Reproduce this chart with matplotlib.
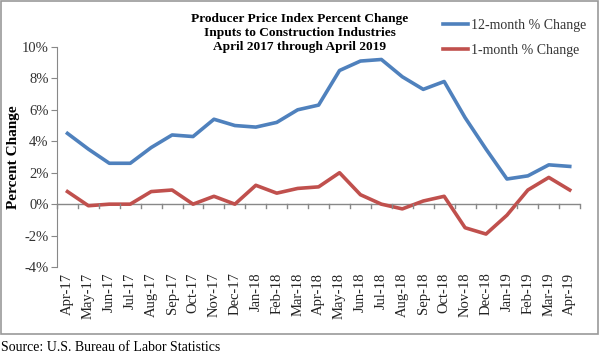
import matplotlib.pyplot as plt
from matplotlib.patches import Rectangle

months = ['Apr-17', 'May-17', 'Jun-17', 'Jul-17', 'Aug-17', 'Sep-17', 'Oct-17',
          'Nov-17', 'Dec-17', 'Jan-18', 'Feb-18', 'Mar-18', 'Apr-18', 'May-18',
          'Jun-18', 'Jul-18', 'Aug-18', 'Sep-18', 'Oct-18', 'Nov-18', 'Dec-18',
          'Jan-19', 'Feb-19', 'Mar-19', 'Apr-19']
change_12m = [4.5, 3.5, 2.6, 2.6, 3.6, 4.4, 4.3, 5.4, 5.0, 4.9, 5.2, 6.0, 6.3,
              8.5, 9.1, 9.2, 8.1, 7.3, 7.8, 5.5, 3.5, 1.6, 1.8, 2.5, 2.4]
change_1m = [0.8, -0.1, 0.0, 0.0, 0.8, 0.9, 0.0, 0.5, 0.0, 1.2, 0.7, 1.0, 1.1,
             2.0, 0.6, 0.0, -0.3, 0.2, 0.5, -1.5, -1.9, -0.7, 0.9, 1.7, 0.9]
yticks = [-4, -2, 0, 2, 4, 6, 8, 10]

plt.rcParams['font.family'] = ['Liberation Serif', 'DejaVu Serif']

fig = plt.figure(figsize=(6, 3.58), dpi=100)
ax = fig.add_axes([0.095, 0.254, 0.872, 0.615])

x = list(range(len(months)))
ax.plot(x, change_12m, color='#4F81BD', lw=2.6, label='12-month % Change')
ax.plot(x, change_1m, color='#C0504D', lw=2.6, label='1-month % Change')

ax.set_xlim(-0.5, len(months) - 0.5)
ax.set_ylim(-4, 10)
ax.set_yticks(yticks)
ax.set_yticklabels(['{}%'.format(v) for v in yticks], fontsize=10.5, color='#333333')
ax.tick_params(axis='y', length=4, color='#888888', pad=2)

# x axis sits at zero, labels below the plot
for s in ['top', 'right', 'bottom']:
    ax.spines[s].set_visible(False)
ax.spines['left'].set_color('#888888')
ax.axhline(0, color='#888888', lw=1, zorder=1)
ax.set_xticks([])
for i in range(len(months) + 1):
    ax.plot([i - 0.5, i - 0.5], [0, -0.25], color='#888888', lw=1, clip_on=False)
for i, m in enumerate(months):
    ax.text(i, -4.35, m, rotation=90, ha='center', va='top', fontsize=10.5, color='#222222')

fig.text(0.022, 0.5615, 'Percent Change', rotation=90, ha='center', va='center',
         fontsize=11, fontweight='bold')

fig.text(0.5, 0.965, 'Producer Price Index Percent Change\nInputs to Construction Industries\nApril 2017 through April 2019',
         ha='center', va='top', fontsize=9.6, fontweight='bold', linespacing=1.25)
ax.legend(loc='upper left', bbox_to_anchor=(0.738, 0.946), bbox_transform=fig.transFigure,
          frameon=False, fontsize=10, borderpad=0, borderaxespad=0,
          handlelength=1.8, handletextpad=0.2, labelspacing=0.85, labelcolor='#333333')

fig.patches.append(Rectangle((0.002, 0.066), 0.995, 0.93, transform=fig.transFigure,
                             fill=False, edgecolor='#999999', lw=1.2))
fig.text(0.002, 0.03, 'Source: U.S. Bureau of Labor Statistics', fontsize=10, va='center')

fig.savefig('out.png', dpi=100)
